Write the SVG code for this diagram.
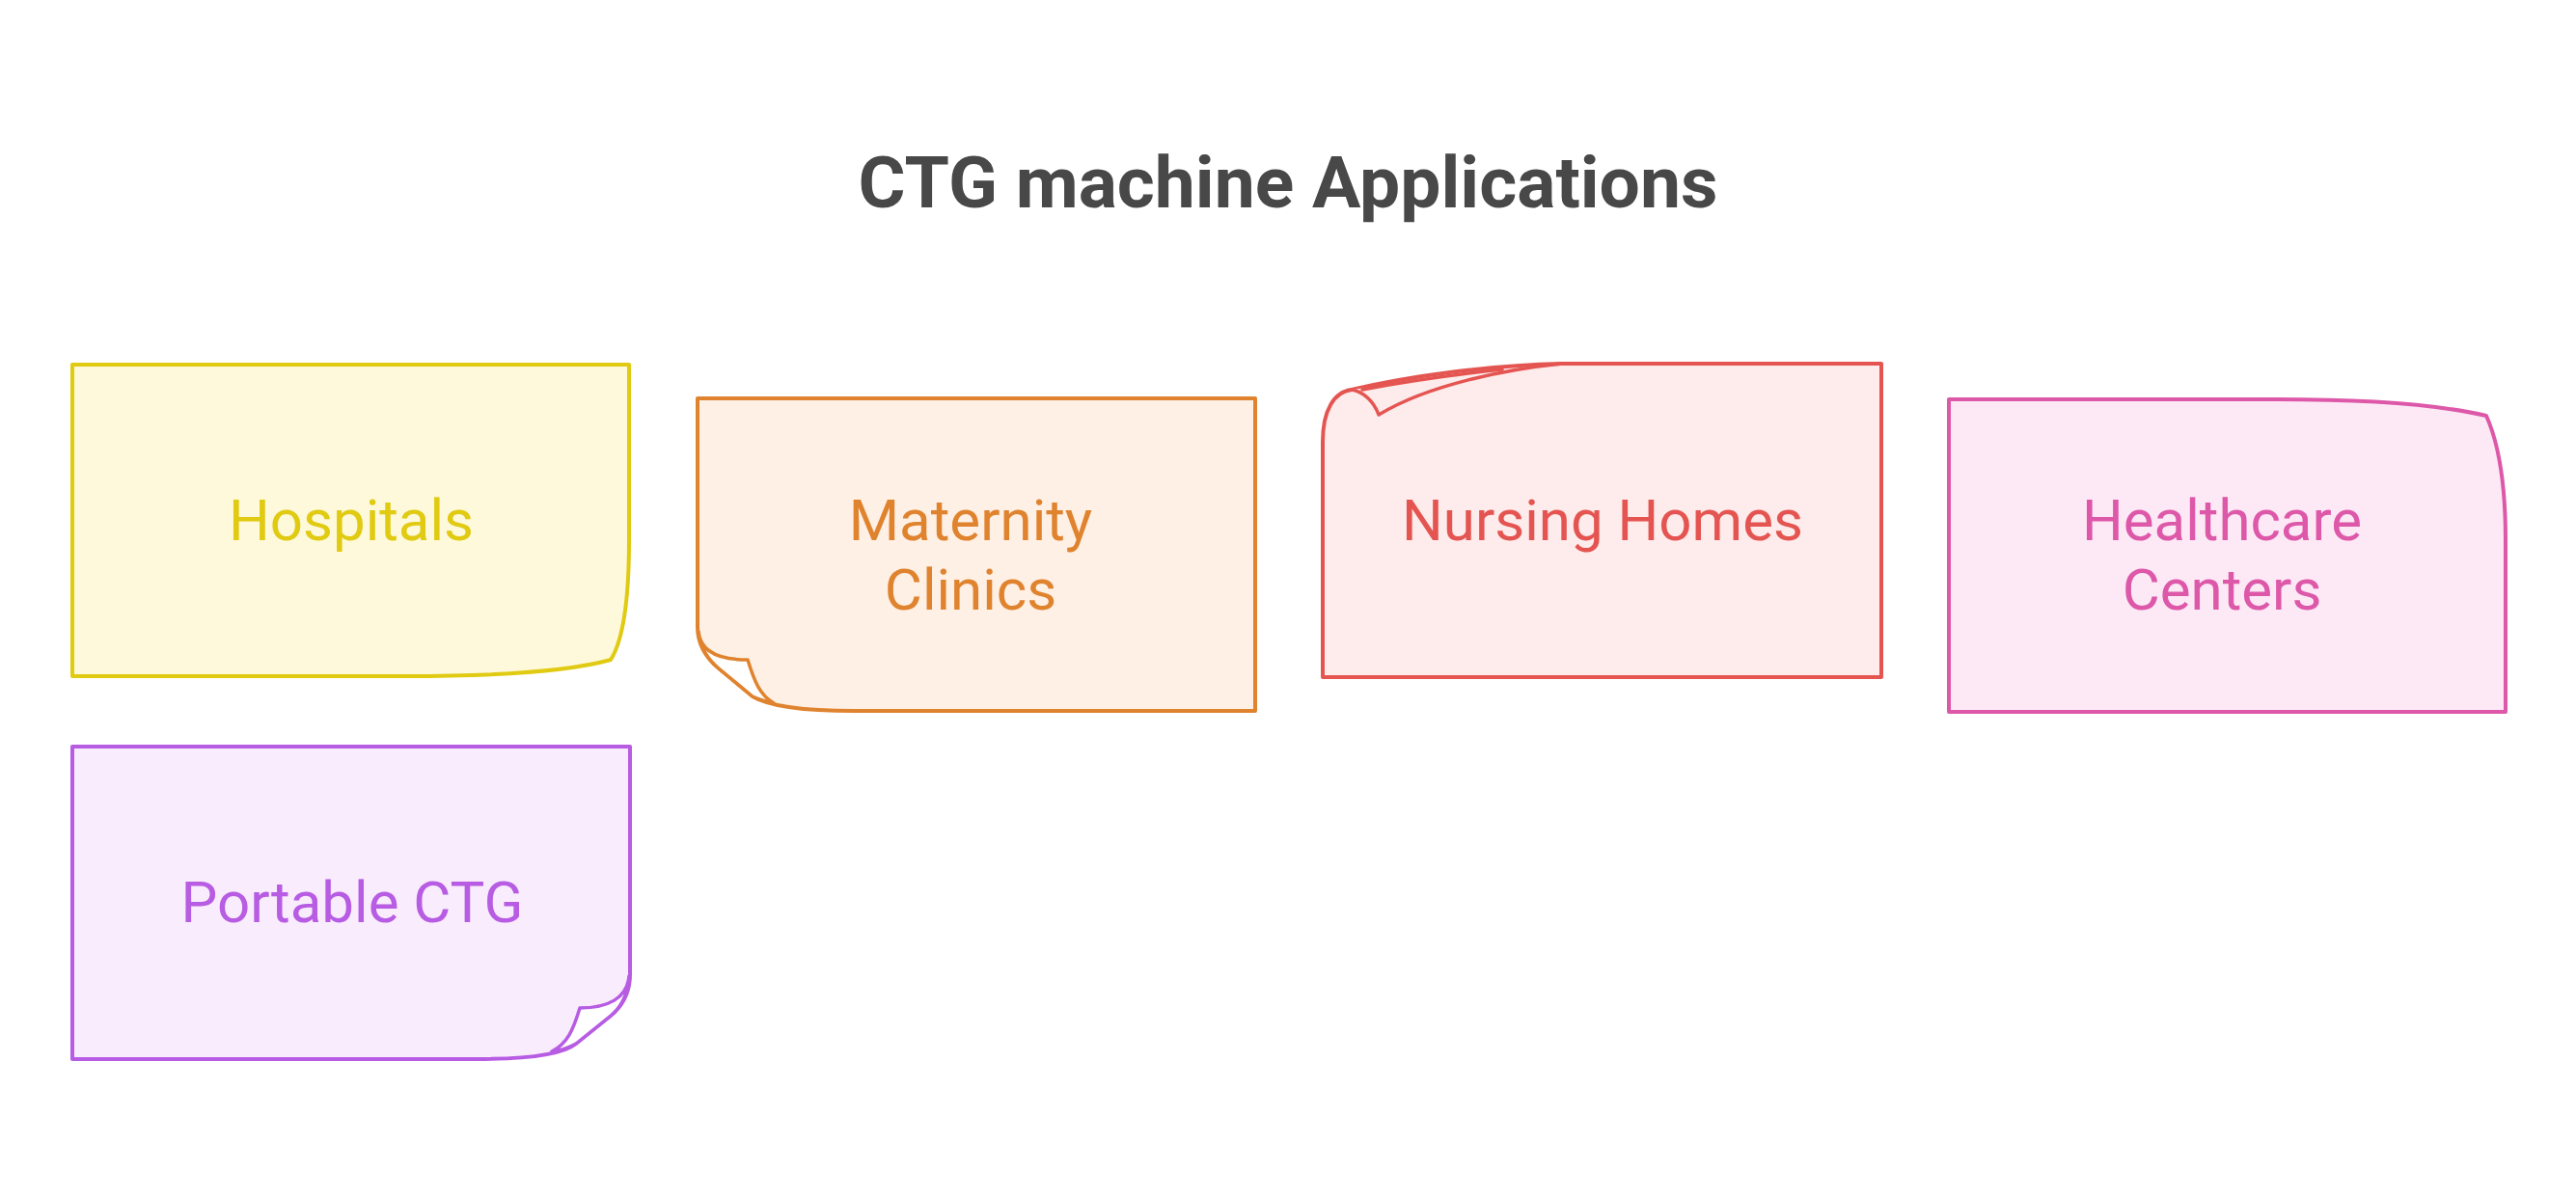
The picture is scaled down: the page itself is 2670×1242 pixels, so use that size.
<svg xmlns="http://www.w3.org/2000/svg" width="2670" height="1242" viewBox="0 0 2670 1242">
<style>
.title{font-family:Roboto,"Liberation Sans",sans-serif;font-weight:bold;font-size:75px;fill:#484848;text-anchor:middle}
.lbl{font-family:Roboto,"Liberation Sans",sans-serif;font-size:60px;text-anchor:middle}
.sh{stroke-width:4;stroke-linejoin:round;stroke-linecap:round}
.fold{stroke-width:3.5;stroke-linejoin:round;stroke-linecap:round}
.y{stroke:#E0CA12;fill:#FEF9DA}.yt{fill:#E0CA12}
.o{stroke:#E0832F;fill:#FEF0E4}.ot{fill:#E0832F}
.r{stroke:#E45552;fill:#FEEBEB}.rt{fill:#E45552}
.p{stroke:#DD58A8;fill:#FDE9F6}.pt{fill:#DD58A8}
.v{stroke:#B75CE3;fill:#F9EDFD}.vt{fill:#B75CE3}
</style>
<rect width="2670" height="1242" fill="#FFFFFF"/>
<text class="title" x="1335" y="215">CTG machine Applications</text>
<g id="connectors"></g>
<g id="node-hospitals">
<path class="sh y" d="M75,378 H652 V560 C652,625 645,665 633,684 C590,696 520,701 420,701 H75 Z"/>
<text class="lbl yt" x="364" y="560">Hospitals</text>
</g>
<g id="node-maternity">
<path class="sh o" d="M723,413 H1301 V737 H885 C830,737 795,731 780,722 L745,693 C733,683 723,668 723,650 Z"/>
<path class="fold o" style="fill:#FFFFFF" d="M724,655 C726,676 745,684 775,684 C782,707 788,721 802,729 C793,727 786,725 780,722 L745,693 C734,684 726,672 724,655 Z"/>
<text class="lbl ot" x="1006" y="560">Maternity</text>
<text class="lbl ot" x="1006" y="632">Clinics</text>
</g>
<g id="node-nursing">
<path class="sh r" d="M1371,702 V458 C1371,425 1383,406 1401,404 C1460,390 1540,379 1619,377 H1950 V702 Z"/>
<path class="fold r" d="M1401,404 C1413,406 1424,416 1429,430 C1480,399 1560,383 1619,377"/>
<path class="fold r" style="fill:none" d="M1412,404 C1470,393 1520,387 1557,383"/>
<text class="lbl rt" x="1661" y="560">Nursing Homes</text>
</g>
<g id="node-healthcare">
<path class="sh p" d="M2020,414 H2360 C2460,414 2530,420 2577,431 C2590,460 2597,500 2597,560 V738 H2020 Z"/>
<text class="lbl pt" x="2303" y="560">Healthcare</text>
<text class="lbl pt" x="2303" y="632">Centers</text>
</g>
<g id="node-portable">
<path class="sh v" d="M75,774 H653 V1010 C653,1030 645,1043 633,1053 L597,1082 C585,1092 550,1098 493,1098 H75 Z"/>
<path class="fold v" style="fill:#FFFFFF" d="M652,1012 C650,1035 630,1045 601,1045 C594,1068 588,1082 572,1090 C582,1089 590,1086 597,1082 L633,1053 C644,1044 651,1030 652,1012 Z"/>
<text class="lbl vt" x="365" y="956">Portable CTG</text>
</g>
</svg>
